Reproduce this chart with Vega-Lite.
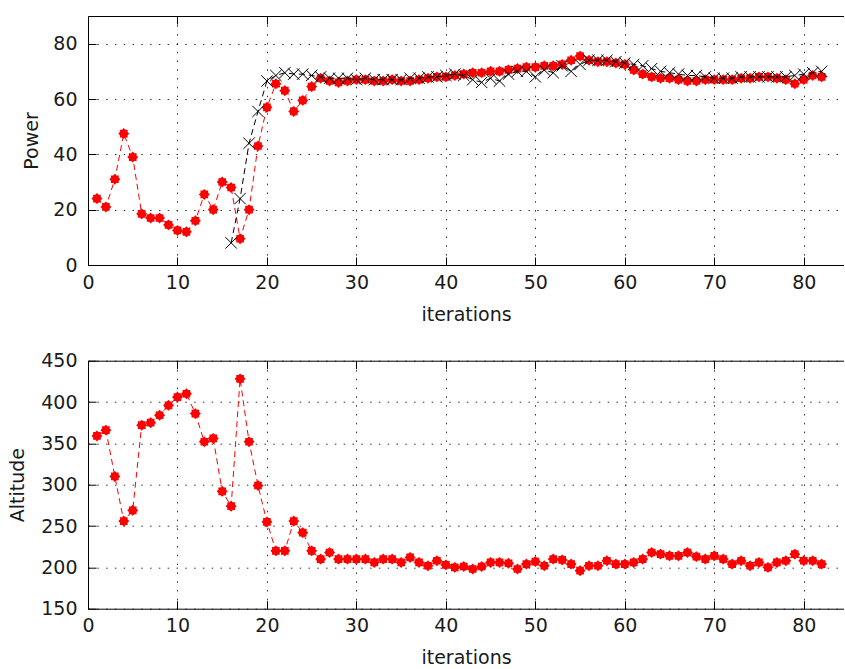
{
  "$schema": "https://vega.github.io/schema/vega-lite/v6.json",
  "padding": {"left": 8, "top": 15, "right": 0, "bottom": 0},
  "background": "white",
  "datasets": {
    "d": [
      {"it": 1, "p1": 24, "p2": null, "alt": 359},
      {"it": 2, "p1": 21, "p2": null, "alt": 366},
      {"it": 3, "p1": 31, "p2": null, "alt": 310},
      {"it": 4, "p1": 47.5, "p2": null, "alt": 256},
      {"it": 5, "p1": 39, "p2": null, "alt": 269},
      {"it": 6, "p1": 18.5, "p2": null, "alt": 372},
      {"it": 7, "p1": 17, "p2": null, "alt": 375},
      {"it": 8, "p1": 17, "p2": null, "alt": 384},
      {"it": 9, "p1": 14.5, "p2": null, "alt": 396},
      {"it": 10, "p1": 12.5, "p2": null, "alt": 406},
      {"it": 11, "p1": 12, "p2": null, "alt": 410},
      {"it": 12, "p1": 16, "p2": null, "alt": 386},
      {"it": 13, "p1": 25.5, "p2": null, "alt": 352},
      {"it": 14, "p1": 20, "p2": null, "alt": 356},
      {"it": 15, "p1": 30, "p2": null, "alt": 292},
      {"it": 16, "p1": 28, "p2": 8, "alt": 274},
      {"it": 17, "p1": 9.5, "p2": 24, "alt": 428},
      {"it": 18, "p1": 20, "p2": 44, "alt": 352},
      {"it": 19, "p1": 43, "p2": 55.5, "alt": 299},
      {"it": 20, "p1": 57, "p2": 66.5, "alt": 255},
      {"it": 21, "p1": 65.5, "p2": 68.5, "alt": 220},
      {"it": 22, "p1": 63, "p2": 69.5, "alt": 220},
      {"it": 23, "p1": 55.5, "p2": 69, "alt": 256},
      {"it": 24, "p1": 59.5, "p2": 69, "alt": 242},
      {"it": 25, "p1": 64.5, "p2": 68.5, "alt": 220},
      {"it": 26, "p1": 67.5, "p2": 68, "alt": 210},
      {"it": 27, "p1": 66.5, "p2": 67.5, "alt": 218},
      {"it": 28, "p1": 66, "p2": 67.5, "alt": 210},
      {"it": 29, "p1": 66.5, "p2": 67.5, "alt": 210},
      {"it": 30, "p1": 67, "p2": 67, "alt": 210},
      {"it": 31, "p1": 67, "p2": 67.5, "alt": 210},
      {"it": 32, "p1": 66.5, "p2": 67, "alt": 206},
      {"it": 33, "p1": 66.5, "p2": 67, "alt": 210},
      {"it": 34, "p1": 67, "p2": 67, "alt": 210},
      {"it": 35, "p1": 66.5, "p2": 67, "alt": 206},
      {"it": 36, "p1": 66.5, "p2": 67.5, "alt": 212},
      {"it": 37, "p1": 67, "p2": 67.5, "alt": 206},
      {"it": 38, "p1": 67.5, "p2": 68, "alt": 202},
      {"it": 39, "p1": 68, "p2": 68, "alt": 208},
      {"it": 40, "p1": 68, "p2": 68.5, "alt": 203},
      {"it": 41, "p1": 68.5, "p2": 69, "alt": 200},
      {"it": 42, "p1": 69, "p2": 68.5, "alt": 201},
      {"it": 43, "p1": 69.5, "p2": 67, "alt": 198},
      {"it": 44, "p1": 69.5, "p2": 66, "alt": 201},
      {"it": 45, "p1": 70, "p2": 67.5, "alt": 206},
      {"it": 46, "p1": 70, "p2": 66.5, "alt": 206},
      {"it": 47, "p1": 70.5, "p2": 69, "alt": 205},
      {"it": 48, "p1": 71, "p2": 70, "alt": 198},
      {"it": 49, "p1": 71.5, "p2": 70, "alt": 204},
      {"it": 50, "p1": 71.5, "p2": 68, "alt": 207},
      {"it": 51, "p1": 72, "p2": 70.5, "alt": 202},
      {"it": 52, "p1": 72, "p2": 69.5, "alt": 210},
      {"it": 53, "p1": 72.5, "p2": 72, "alt": 209},
      {"it": 54, "p1": 74, "p2": 70, "alt": 204},
      {"it": 55, "p1": 75.5, "p2": 72.5, "alt": 196},
      {"it": 56, "p1": 74, "p2": 74, "alt": 202},
      {"it": 57, "p1": 73.5, "p2": 74, "alt": 202},
      {"it": 58, "p1": 73.5, "p2": 74, "alt": 208},
      {"it": 59, "p1": 73, "p2": 73.5, "alt": 204},
      {"it": 60, "p1": 72.5, "p2": 73, "alt": 204},
      {"it": 61, "p1": 70.5, "p2": 72.5, "alt": 206},
      {"it": 62, "p1": 69, "p2": 72, "alt": 210},
      {"it": 63, "p1": 68, "p2": 71, "alt": 218},
      {"it": 64, "p1": 67.5, "p2": 70, "alt": 216},
      {"it": 65, "p1": 67.5, "p2": 69.5, "alt": 214},
      {"it": 66, "p1": 67, "p2": 69, "alt": 214},
      {"it": 67, "p1": 66.5, "p2": 68.5, "alt": 218},
      {"it": 68, "p1": 66.5, "p2": 68.5, "alt": 213},
      {"it": 69, "p1": 67, "p2": 68, "alt": 210},
      {"it": 70, "p1": 67, "p2": 67.5, "alt": 214},
      {"it": 71, "p1": 67, "p2": 67.5, "alt": 210},
      {"it": 72, "p1": 67, "p2": 67.5, "alt": 204},
      {"it": 73, "p1": 67.5, "p2": 68, "alt": 208},
      {"it": 74, "p1": 67.5, "p2": 68, "alt": 202},
      {"it": 75, "p1": 68, "p2": 68, "alt": 206},
      {"it": 76, "p1": 68, "p2": 68, "alt": 200},
      {"it": 77, "p1": 67.5, "p2": 68, "alt": 206},
      {"it": 78, "p1": 67, "p2": 68, "alt": 208},
      {"it": 79, "p1": 65.5, "p2": 68.5, "alt": 216},
      {"it": 80, "p1": 67, "p2": 69, "alt": 208},
      {"it": 81, "p1": 68.5, "p2": 69.5, "alt": 208},
      {"it": 82, "p1": 68, "p2": 70, "alt": 204}
    ]
  },
  "config": {
    "view": {"stroke": null},
    "font": "DejaVu Sans",
    "axis": {
      "labelFont": "DejaVu Sans",
      "labelFontSize": 19,
      "labelColor": "#1a1a1a",
      "labelFlush": false,
      "labelOverlap": false,
      "titleFont": "DejaVu Sans",
      "titleFontSize": 19,
      "titleFontWeight": "normal",
      "titleColor": "#1a1a1a",
      "domainColor": "#000000",
      "domainWidth": 1,
      "tickColor": "#000000",
      "tickSize": -8,
      "tickWidth": 1,
      "gridColor": "#333333",
      "gridDash": [1.5, 7.3],
      "gridOpacity": 1,
      "gridWidth": 1
    }
  },
  "spacing": 95.7,
  "bounds": "flush",
  "vconcat": [
    {
      "width": 756,
      "height": 249,
      "data": {"name": "d"},
      "layer": [
        {
          "mark": {"type": "line", "color": "#ff0000", "strokeDash": [6, 4], "strokeWidth": 1},
          "encoding": {
            "x": {"field": "it", "type": "quantitative", "scale": {"domain": [0, 84.5], "nice": false},
              "axis": {"orient": "bottom", "values": [0, 10, 20, 30, 40, 50, 60, 70, 80], "grid": true, "title": "iterations", "labelPadding": 16, "titlePadding": 13}},
            "y": {"field": "p1", "type": "quantitative", "scale": {"domain": [0, 90], "nice": false},
              "axis": {"values": [0, 20, 40, 60, 80], "grid": true, "title": "Power", "labelPadding": 19, "titleX": -57, "titleY": 124.5, "titleBaseline": "middle", "titleAngle": 270}}
          }
        },
        {
          "mark": {"type": "point", "shape": "M0,-1L0.3,-0.7L0.7,-0.7L0.7,-0.3L1,0L0.7,0.3L0.7,0.7L0.3,0.7L0,1L-0.3,0.7L-0.7,0.7L-0.7,0.3L-1,0L-0.7,-0.3L-0.7,-0.7L-0.3,-0.7Z", "filled": true, "color": "#ff0000", "opacity": 1, "size": 120},
          "encoding": {
            "x": {"field": "it", "type": "quantitative", "axis": null},
            "y": {"field": "p1", "type": "quantitative", "title": "Power"}
          }
        },
        {
          "mark": {"type": "line", "color": "#000000", "strokeDash": [6, 4], "strokeWidth": 1},
          "encoding": {
            "x": {"field": "it", "type": "quantitative",
              "axis": {"orient": "top", "values": [10, 20, 30, 40, 50, 60, 70, 80], "labels": false, "grid": false, "title": null}},
            "y": {"field": "p2", "type": "quantitative", "title": "Power"}
          }
        },
        {
          "mark": {"type": "point", "shape": "M-1,-1L1,1M1,-1L-1,1", "filled": false, "color": "#000000", "opacity": 1, "strokeWidth": 1, "size": 130},
          "encoding": {
            "x": {"field": "it", "type": "quantitative", "axis": null},
            "y": {"field": "p2", "type": "quantitative", "title": "Power"}
          }
        }
      ],
      "resolve": {"axis": {"x": "independent"}}
    },
    {
      "width": 756,
      "height": 248,
      "data": {"name": "d"},
      "layer": [
        {
          "mark": {"type": "line", "color": "#ff0000", "strokeDash": [6, 4], "strokeWidth": 1},
          "encoding": {
            "x": {"field": "it", "type": "quantitative", "scale": {"domain": [0, 84.5], "nice": false},
              "axis": {"orient": "bottom", "values": [0, 10, 20, 30, 40, 50, 60, 70, 80], "grid": true, "title": "iterations", "labelPadding": 16, "titlePadding": 13}},
            "y": {"field": "alt", "type": "quantitative", "scale": {"domain": [150, 450], "nice": false},
              "axis": {"values": [150, 200, 250, 300, 350, 400, 450], "grid": true, "title": "Altitude", "labelPadding": 19, "titleX": -71, "titleY": 124, "titleBaseline": "middle", "titleAngle": 270}}
          }
        },
        {
          "mark": {"type": "point", "shape": "M0,-1L0.3,-0.7L0.7,-0.7L0.7,-0.3L1,0L0.7,0.3L0.7,0.7L0.3,0.7L0,1L-0.3,0.7L-0.7,0.7L-0.7,0.3L-1,0L-0.7,-0.3L-0.7,-0.7L-0.3,-0.7Z", "filled": true, "color": "#ff0000", "opacity": 1, "size": 120},
          "encoding": {
            "x": {"field": "it", "type": "quantitative",
              "axis": {"orient": "top", "values": [10, 20, 30, 40, 50, 60, 70, 80], "labels": false, "grid": false, "title": null}},
            "y": {"field": "alt", "type": "quantitative", "title": "Altitude"}
          }
        }
      ],
      "resolve": {"axis": {"x": "independent"}}
    }
  ]
}
